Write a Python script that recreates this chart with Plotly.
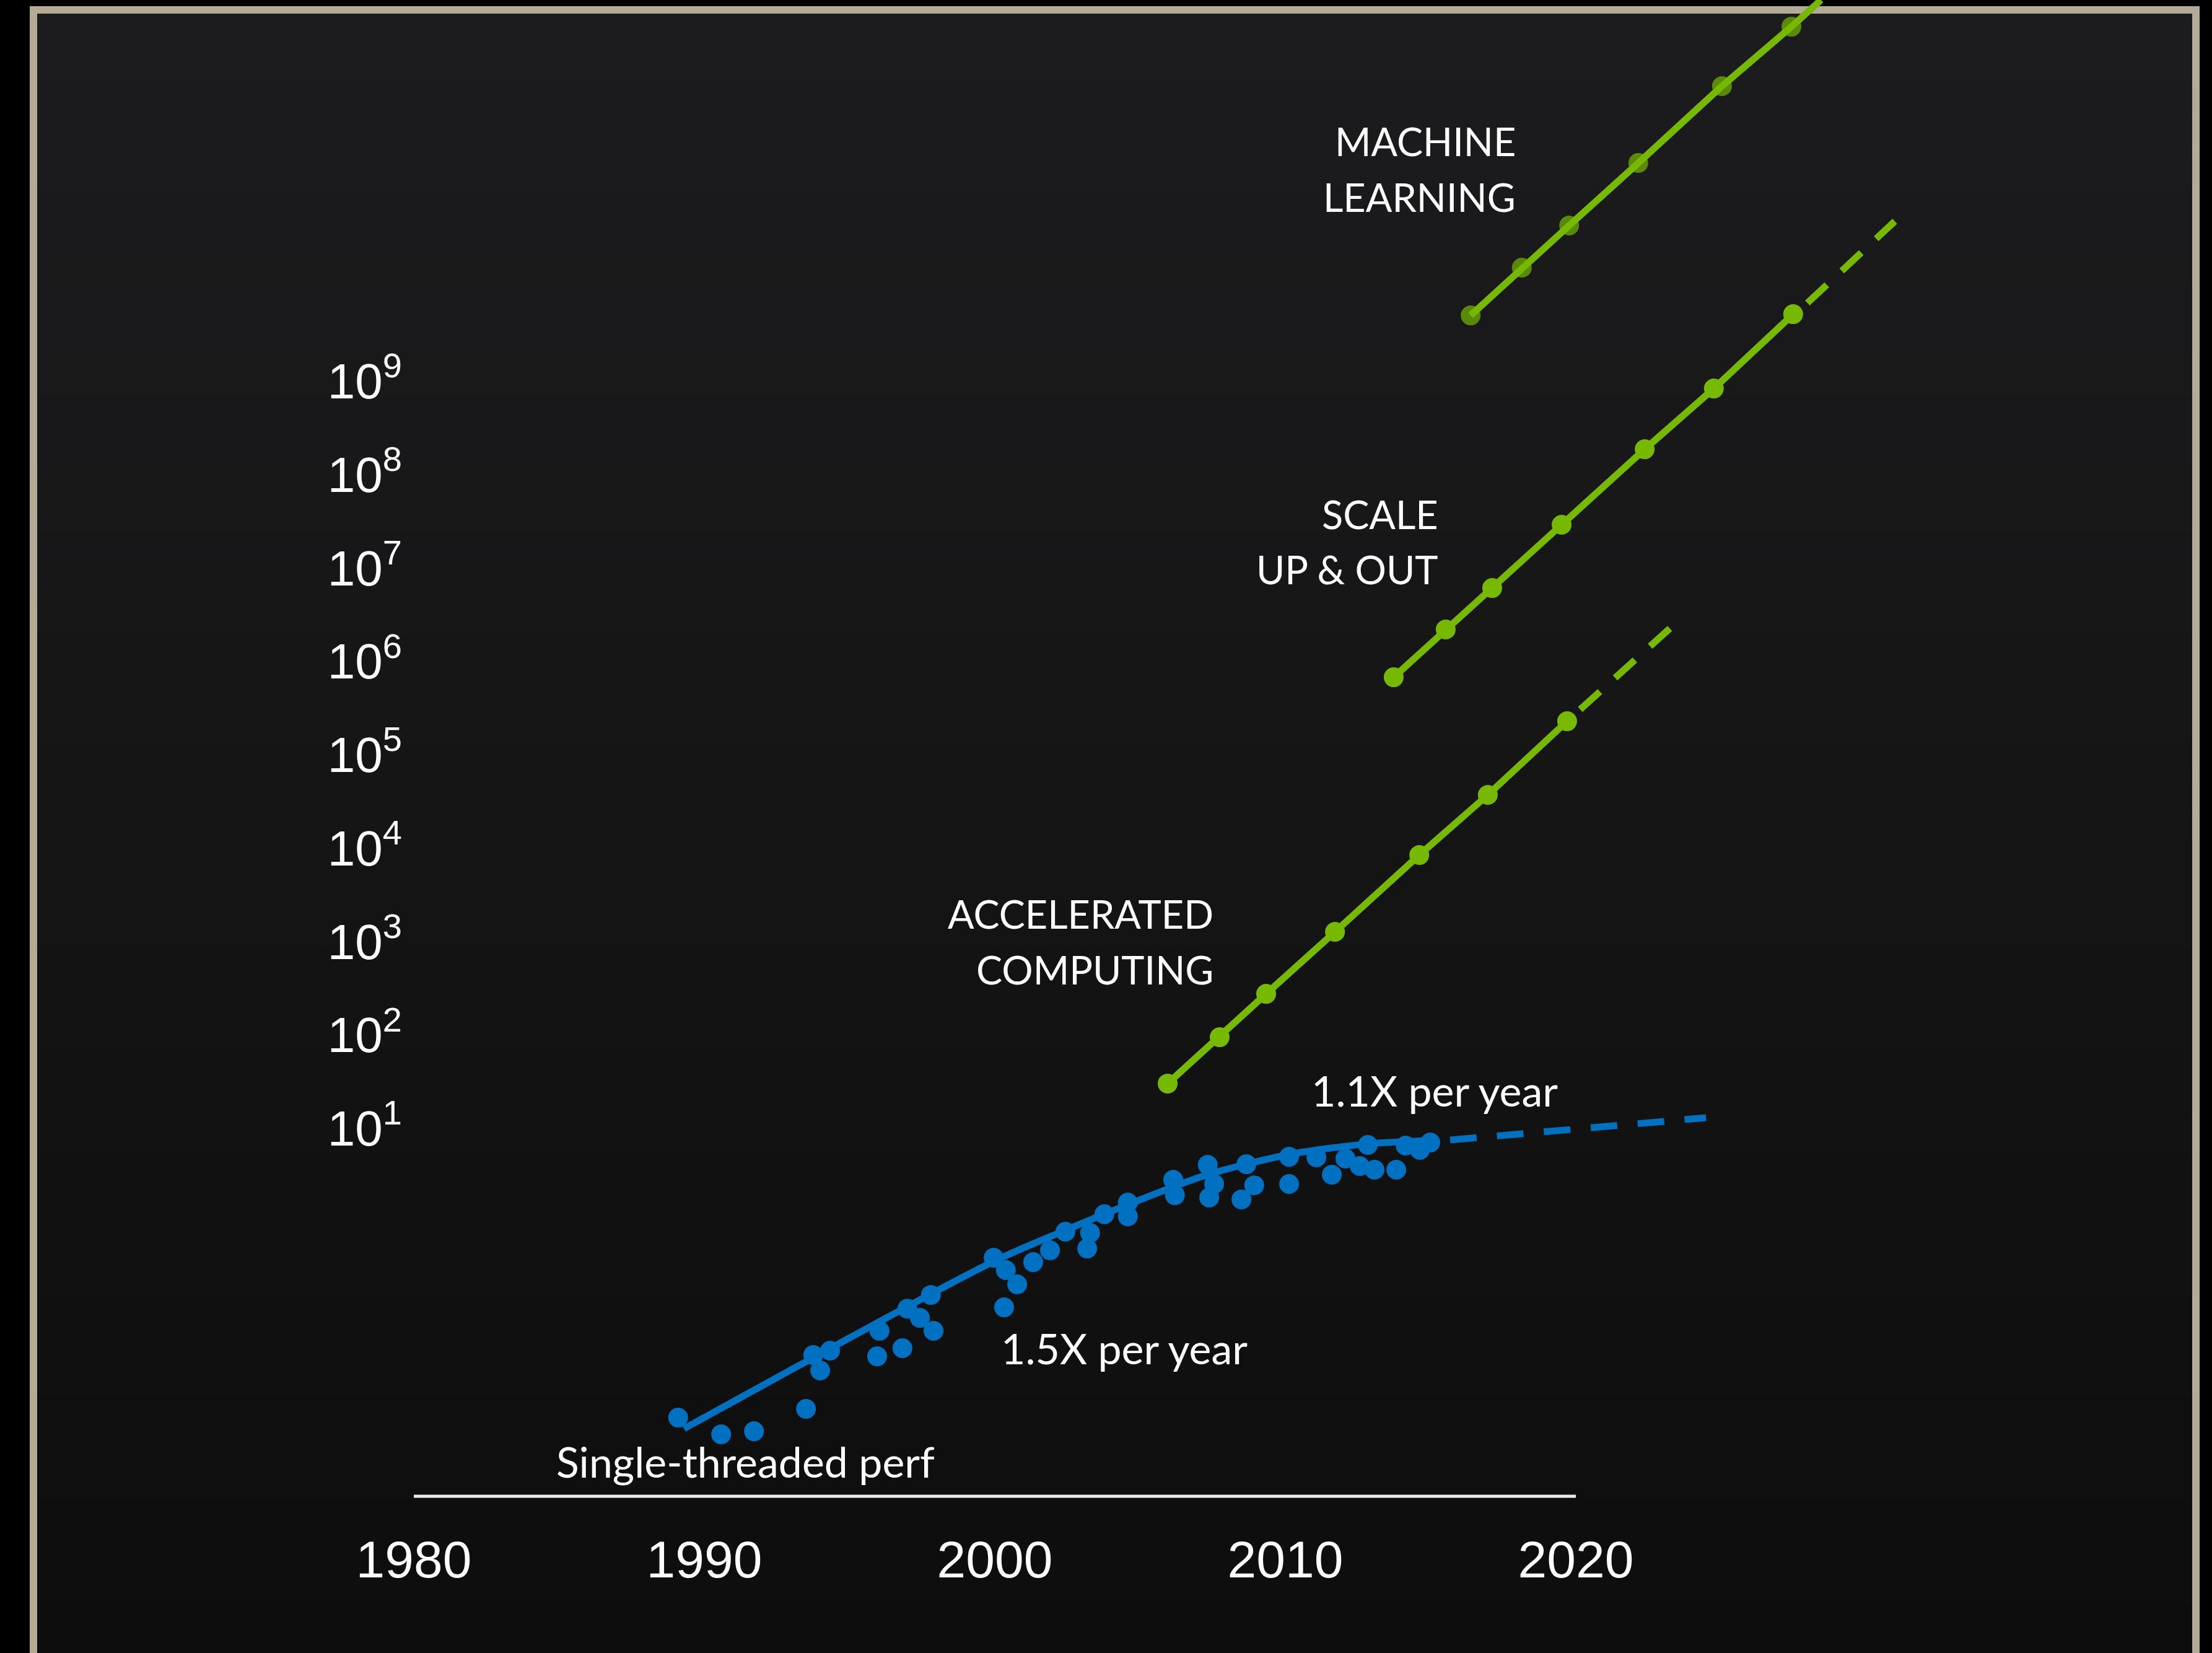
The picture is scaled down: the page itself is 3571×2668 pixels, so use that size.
import plotly.graph_objects as go

W, H = 3571, 2668

# ---- data -------------------------------------------------------------
# Single-threaded CPU performance samples
cpu_years = [1989.10, 1990.58, 1991.71, 1993.50, 1993.75, 1993.99, 1994.33, 1995.95,
             1996.03, 1996.82, 1996.99, 1997.42, 1997.80, 1997.89, 1999.96, 2000.32,
             2000.38, 2000.77, 2001.32, 2001.90, 2002.43, 2003.18, 2003.28, 2003.77,
             2004.58, 2004.58, 2006.14, 2006.20, 2007.33, 2007.55, 2007.38, 2008.66,
             2008.93, 2008.49, 2010.13, 2010.13, 2011.07, 2011.60, 2012.07, 2012.56,
             2012.84, 2013.07, 2013.82, 2014.14, 2014.63, 2014.99]
cpu_perf = [0.00798, 0.00528, 0.00570, 0.00989, 0.0373, 0.0255, 0.0416, 0.0362,
            0.0678, 0.0442, 0.117, 0.0933, 0.164, 0.0678, 0.411, 0.121,
            0.303, 0.213, 0.369, 0.493, 0.780, 0.516, 0.757, 1.20,
            1.60, 1.14, 2.81, 1.92, 4.06, 2.53, 1.81, 4.12,
            2.45, 1.73, 4.95, 2.53, 4.88, 3.18, 4.73, 3.94,
            6.62, 3.60, 3.60, 6.52, 5.86, 7.03]

# Trend through the CPU samples, and its projection
cpu_trend_years = [1989.30, 1999.96, 2002.41, 2004.54, 2007.25, 2010.15, 2012.86, 2014.90]
cpu_trend_perf = [0.00607, 0.375, 0.804, 1.503, 3.133, 5.26, 6.82, 7.36]
cpu_proj_years = [2015.67, 2024.48]
cpu_proj_perf = [7.48, 12.97]

# Accelerated computing
acc_years = [2005.95, 2007.74, 2009.34, 2011.71, 2014.61, 2016.97, 2019.70]
acc_perf = [30.1, 94.4, 275, 1268, 8414, 37070, 228000]
acc_proj_years = [2020.15, 2023.24]
acc_proj_perf = [3.048e5, 2.254e6]

# Scale up & out
scale_years = [2013.73, 2015.52, 2017.12, 2019.51, 2022.37, 2024.75, 2027.48]
scale_perf = [6.745e5, 2.188e6, 6.081e6, 2.891e7, 1.862e8, 8.318e8, 5.200e9]
scale_proj_years = [2027.97, 2030.98]
scale_proj_perf = [6.855e9, 5.140e10]

# Machine learning (last point is where the line leaves the frame)
ml_years = [2016.38, 2018.14, 2019.77, 2022.15, 2025.03, 2027.42, 2028.44]
ml_perf = [5.047e9, 1.637e10, 4.624e10, 2.163e11, 1.439e12, 6.223e12, 1.202e13]

year_ticks = [1980, 1990, 2000, 2010, 2020]
perf_ticks = [1e1, 1e2, 1e3, 1e4, 1e5, 1e6, 1e7, 1e8, 1e9]
perf_tick_text = ["10<sup>%d</sup>" % k for k in range(1, 10)]

# ---- style ------------------------------------------------------------
BLUE = "#0070c0"
GREEN = "#76b900"
TEXT_FONT = "Lato"
AXIS_FONT = "Liberation Sans"
DOT = 32
LW = 11
DASH = "43px,33px"

# plot-area geometry (pixels)
PL, PB = 668, 2415
PX_PER_YEAR = 46.9
x_range = [1980, 1980 + (W - PL) / PX_PER_YEAR]
y_range = [-2.940, 13.080]


def xp(px):
    return (px - PL) / (W - PL)


def yp(py):
    return (PB - py) / PB


fig = go.Figure()

fig.add_trace(go.Scatter(x=cpu_years, y=cpu_perf, mode="markers",
                         marker=dict(color=BLUE, size=DOT, line=dict(width=0))))
fig.add_trace(go.Scatter(x=cpu_trend_years, y=cpu_trend_perf, mode="lines",
                         line=dict(color=BLUE, width=LW, shape="spline", smoothing=0.8)))
fig.add_trace(go.Scatter(x=cpu_proj_years, y=cpu_proj_perf, mode="lines",
                         line=dict(color=BLUE, width=LW, dash=DASH)))

for yrs, vals in [(acc_years, acc_perf), (scale_years, scale_perf)]:
    fig.add_trace(go.Scatter(x=yrs, y=vals, mode="lines+markers",
                             line=dict(color=GREEN, width=LW),
                             marker=dict(color=GREEN, size=DOT, line=dict(width=0))))
for yrs, vals in [(acc_proj_years, acc_proj_perf), (scale_proj_years, scale_proj_perf)]:
    fig.add_trace(go.Scatter(x=yrs, y=vals, mode="lines",
                             line=dict(color=GREEN, width=LW, dash=DASH)))

fig.add_trace(go.Scatter(x=ml_years, y=ml_perf, mode="lines+markers",
                         line=dict(color=GREEN, width=LW),
                         marker=dict(color=GREEN, size=[DOT] * (len(ml_years) - 1) + [0],
                                     line=dict(width=0))))

# ---- background panel with a soft vertical gradient -------------------
shapes = []
# outer frame
shapes.append(dict(type="rect", xref="paper", yref="paper", layer="below",
                   x0=xp(48), x1=xp(3551), y0=yp(2700), y1=yp(10),
                   fillcolor="#b3ab95", line=dict(width=0)))
top_c = (28, 28, 30)
bot_c = (13, 13, 13)
bands = 48
y_top, y_bot = 22, 2700
for i in range(bands):
    t = i / (bands - 1)
    c = tuple(round(top_c[k] + (bot_c[k] - top_c[k]) * t) for k in range(3))
    py0 = y_top + (y_bot - y_top) * i / bands
    py1 = y_top + (y_bot - y_top) * (i + 1) / bands + 1
    shapes.append(dict(type="rect", xref="paper", yref="paper", layer="below",
                       x0=xp(60), x1=xp(3539), y0=yp(py1), y1=yp(py0),
                       fillcolor="rgb(%d,%d,%d)" % c, line=dict(width=0)))
# x axis baseline (1980 - 2020)
shapes.append(dict(type="line", xref="x", yref="paper", x0=1980, x1=2020, y0=0, y1=0,
                   line=dict(color="#ececec", width=5)))


def label(text, x, y, anchor, size):
    return dict(text=text, x=x, y=y, xref="x", yref="y", xanchor=anchor, yanchor="middle",
                showarrow=False, font=dict(family=TEXT_FONT, size=size, color="white"))


CAPS, LOWER = 63, 68
annotations = [
    label("MACHINE", 2017.97, 11.574, "right", CAPS),
    label("LEARNING", 2017.97, 10.977, "right", CAPS),
    label("SCALE", 2015.30, 7.580, "right", CAPS),
    label("UP &amp; OUT", 2015.30, 6.990, "right", CAPS),
    label("ACCELERATED", 2007.57, 3.302, "right", CAPS),
    label("COMPUTING", 2007.57, 2.705, "right", CAPS),
    label("1.1X per year", 2010.85, 1.411, "left", LOWER),
    label("1.5X per year", 2000.17, -1.348, "left", LOWER),
    label("Single-threaded perf", 1984.86, -2.562, "left", LOWER),
]

fig.update_layout(
    width=W, height=H,
    margin=dict(l=PL, r=0, t=0, b=H - PB, pad=0),
    paper_bgcolor="#000000",
    plot_bgcolor="rgba(0,0,0,0)",
    showlegend=False,
    shapes=shapes,
    annotations=annotations,
    xaxis=dict(range=x_range, tickvals=year_ticks, ticktext=[str(v) for v in year_ticks],
               showgrid=False, zeroline=False, showline=False, ticks="",
               ticklabelstandoff=46,
               tickfont=dict(family=AXIS_FONT, size=84, color="white")),
    yaxis=dict(type="log", range=y_range, tickvals=perf_ticks, ticktext=perf_tick_text,
               showgrid=False, zeroline=False, showline=False, ticks="",
               ticklabelstandoff=18,
               tickfont=dict(family=AXIS_FONT, size=80, color="white")),
)

fig.write_html("out.html")
